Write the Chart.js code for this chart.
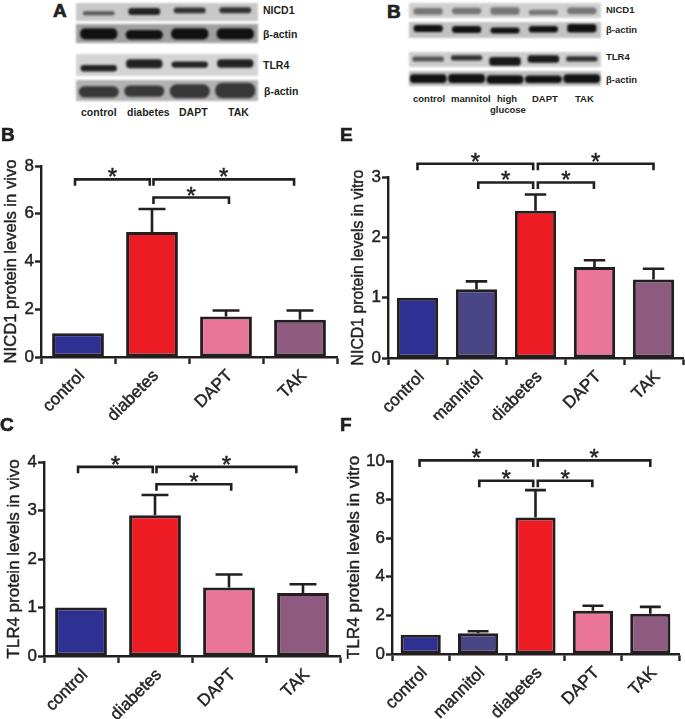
<!DOCTYPE html>
<html>
<head>
<meta charset="utf-8">
<title>NICD1 and TLR4 protein levels</title>
<script src="https://cdn.jsdelivr.net/npm/chart.js@4"></script>
<style>
    body { margin: 0; background: #fff; width: 685px; height: 719px; position: relative; overflow: hidden; font-family: "Liberation Sans", Arial, sans-serif; color: #231f20; }
    canvas { position: absolute; }
    .blot { filter: blur(1.1px); }
    .lab { position: absolute; font-weight: bold; white-space: nowrap; line-height: 1; }
    .letter { position: absolute; font-weight: bold; font-size: 19px; line-height: 1; -webkit-text-stroke: 0.7px #231f20; }
</style>
</head>
<body>
<canvas id="blotA1" class="blot" width="182" height="18" style="left:76px;top:3px;background:#c8c8c8"></canvas>
<canvas id="blotA2" class="blot" width="182" height="19" style="left:76px;top:24px;background:#a0a0a0"></canvas>
<canvas id="blotA3" class="blot" width="182" height="22" style="left:76px;top:54px;background:#d4d4d4"></canvas>
<canvas id="blotA4" class="blot" width="182" height="21" style="left:76px;top:80px;background:#b2b2b2"></canvas>
<canvas id="blotB1" class="blot" width="192" height="15" style="left:409px;top:3px;background:#cfcfcf"></canvas>
<canvas id="blotB2" class="blot" width="192" height="16" style="left:409px;top:22px;background:#c2c2c2"></canvas>
<canvas id="blotB3" class="blot" width="192" height="15" style="left:409px;top:52px;background:#cdcdcd"></canvas>
<canvas id="blotB4" class="blot" width="192" height="15" style="left:409px;top:71px;background:#bdbdbd"></canvas>

<canvas id="chartB" width="345" height="295" style="left:0;top:125px"></canvas>
<canvas id="chartC" width="345" height="299" style="left:0;top:420px"></canvas>
<canvas id="chartE" width="340" height="295" style="left:345px;top:125px"></canvas>
<canvas id="chartF" width="340" height="299" style="left:345px;top:420px"></canvas>

<div class="letter" style="left:53px;top:1px">A</div>
<div class="letter" style="left:387px;top:2px">B</div>
<div class="letter" style="left:1px;top:125px">B</div>
<div class="letter" style="left:0;top:415px">C</div>
<div class="letter" style="left:340px;top:125px">E</div>
<div class="letter" style="left:340px;top:415px">F</div>

<div class="lab" style="left:263px;top:5px;font-size:10.5px">NICD1</div>
<div class="lab" style="left:263px;top:29px;font-size:10.5px">β-actin</div>
<div class="lab" style="left:263px;top:60px;font-size:10.5px">TLR4</div>
<div class="lab" style="left:264px;top:86px;font-size:10.5px">β-actin</div>
<div class="lab" style="left:81px;top:107px;font-size:10.5px">control</div>
<div class="lab" style="left:127px;top:107px;font-size:10.5px">diabetes</div>
<div class="lab" style="left:179px;top:107px;font-size:10.5px">DAPT</div>
<div class="lab" style="left:228px;top:107px;font-size:10.5px">TAK</div>

<div class="lab" style="left:606px;top:5px;font-size:9.5px">NICD1</div>
<div class="lab" style="left:606px;top:25px;font-size:9.5px">β-actin</div>
<div class="lab" style="left:606px;top:52px;font-size:9.5px">TLR4</div>
<div class="lab" style="left:606px;top:75px;font-size:9.5px">β-actin</div>
<div class="lab" style="left:413px;top:94px;font-size:9.5px">control</div>
<div class="lab" style="left:451px;top:94px;font-size:9.5px">mannitol</div>
<div class="lab" style="left:497px;top:94px;font-size:9.5px">high</div>
<div class="lab" style="left:490px;top:105px;font-size:9.5px">glucose</div>
<div class="lab" style="left:532px;top:94px;font-size:9.5px">DAPT</div>
<div class="lab" style="left:575px;top:94px;font-size:9.5px">TAK</div>

<script>
// Categories
const vivoCategories = ['control', 'diabetes', 'DAPT', 'TAK'];
const vitroCategories = ['control', 'mannitol', 'diabetes', 'DAPT', 'TAK'];

// Bar heights and error bar tops
const nicd1VivoValues = [1.0, 5.24, 1.7, 1.56];
const nicd1VivoErrors = [null, 6.2, 1.95, 1.95];
const tlr4VivoValues = [1.0, 2.9, 1.41, 1.3];
const tlr4VivoErrors = [null, 3.32, 1.68, 1.48];
const nicd1VitroValues = [1.0, 1.14, 2.44, 1.51, 1.3];
const nicd1VitroErrors = [null, 1.27, 2.71, 1.62, 1.48];
const tlr4VitroValues = [1.0, 1.08, 7.07, 2.24, 2.08];
const tlr4VitroErrors = [null, 1.18, 8.49, 2.5, 2.44];

// Significance brackets: [from category, to category, value]
const nicd1VivoBrackets = [[-0.04, 0.97, 7.44], [1.02, 2.92, 7.44], [1.02, 2.04, 6.68]];
const tlr4VivoBrackets = [[-0.04, 0.97, 3.9], [1.02, 2.91, 3.9], [1.02, 2.03, 3.54]];
const nicd1VitroBrackets = [[0, 1.96, 3.22], [2.04, 4, 3.22], [1.03, 1.96, 2.91], [2.04, 2.99, 2.91]];
const tlr4VitroBrackets = [[-0.02, 1.96, 10.03], [2.04, 4, 10.03], [1.02, 1.96, 8.98], [2.04, 2.99, 8.98]];

// Blot bands: [low, high] inside each strip, one per lane
const blotA1Bands = [[0.32, 0.54], [0.34, 0.72], [0.43, 0.75], [0.43, 0.76]];
const blotA2Bands = [[0.18, 0.78], [0.18, 0.68], [0.18, 0.78], [0.18, 0.78]];
const blotA3Bands = [[0.2, 0.5], [0.35, 0.76], [0.38, 0.66], [0.38, 0.76]];
const blotA4Bands = [[0.17, 0.7], [0.2, 0.74], [0.13, 0.8], [0.13, 0.87]];
const blotB1Bands = [[0.22, 0.67], [0.25, 0.68], [0.22, 0.72], [0.2, 0.55], [0.25, 0.7]];
const blotB2Bands = [[0.38, 0.82], [0.32, 0.75], [0.28, 0.66], [0.35, 0.75], [0.34, 0.88]];
const blotB3Bands = [[0.36, 0.7], [0.43, 0.79], [0.09, 0.66], [0.28, 0.79], [0.36, 0.72]];
const blotB4Bands = [[0.2, 0.78], [0.2, 0.8], [0.15, 0.72], [0.2, 0.7], [0.2, 0.78]];

const ink = '#231f20';
const fontFamily = '"Liberation Sans", Arial, sans-serif';
const barColors = {
    control: '#2e3192',
    mannitol: '#4a4585',
    diabetes: '#ed1c24',
    DAPT: '#e9769a',
    TAK: '#8e5a80'
};

// Error bars, brackets and the y title are drawn on top of the bars
function marksPlugin(cfg) {
    return {
        id: 'marks',
        afterDatasetsDraw(chart) {
            const ctx = chart.ctx;
            const x = chart.scales.x;
            const y = chart.scales.y;
            const bars = chart.getDatasetMeta(0).data;

            ctx.save();
            ctx.strokeStyle = ink;
            ctx.fillStyle = ink;
            ctx.lineWidth = 2.6;

            cfg.errors.forEach((top, i) => {
                if (top === null) return;
                const cap = bars[i].width * 0.26;
                ctx.beginPath();
                ctx.moveTo(bars[i].x, y.getPixelForValue(cfg.values[i]));
                ctx.lineTo(bars[i].x, y.getPixelForValue(top));
                ctx.moveTo(bars[i].x - cap, y.getPixelForValue(top));
                ctx.lineTo(bars[i].x + cap, y.getPixelForValue(top));
                ctx.stroke();
            });

            ctx.textAlign = 'center';
            ctx.textBaseline = 'alphabetic';
            cfg.brackets.forEach(b => {
                const x0 = x.getPixelForValue(b[0]);
                const x1 = x.getPixelForValue(b[1]);
                const py = y.getPixelForValue(b[2]);
                ctx.lineWidth = 2.6;
                ctx.beginPath();
                ctx.moveTo(x0, py + 6.5);
                ctx.lineTo(x0, py);
                ctx.lineTo(x1, py);
                ctx.lineTo(x1, py + 6.5);
                ctx.stroke();
                ctx.font = '24px ' + fontFamily;
                ctx.lineWidth = 0.5;
                ctx.fillText('*', (x0 + x1) / 2, py + 6);
                ctx.strokeText('*', (x0 + x1) / 2, py + 6);
            });

            // y axis title, with a thin stroke to get the weight of the original
            ctx.translate(cfg.titleX, (chart.chartArea.top + chart.chartArea.bottom) / 2);
            ctx.rotate(-Math.PI / 2);
            ctx.textBaseline = 'middle';
            ctx.font = cfg.titleSize + 'px ' + fontFamily;
            ctx.lineWidth = 0.45;
            ctx.fillText(cfg.title, 0, 0);
            ctx.strokeText(cfg.title, 0, 0);
            ctx.restore();
        }
    };
}

function makeBarChart(id, cfg) {
    new Chart(document.getElementById(id), {
        type: 'bar',
        data: {
            labels: cfg.categories,
            datasets: [{
                data: cfg.values,
                backgroundColor: cfg.categories.map(c => barColors[c]),
                borderColor: ink,
                borderWidth: 3,
                borderSkipped: false,
                barPercentage: 0.7,
                categoryPercentage: 1
            }]
        },
        options: {
            responsive: false,
            animation: false,
            layout: { padding: cfg.padding },
            plugins: { legend: { display: false }, tooltip: { enabled: false } },
            scales: {
                x: {
                    afterFit: s => { s.height = cfg.xHeight; },
                    grid: { display: true, drawOnChartArea: false, tickLength: 7, tickWidth: 2.4, tickColor: ink },
                    border: { color: ink, width: 2.4 },
                    ticks: {
                        color: ink,
                        font: { size: 17, family: fontFamily },
                        textStrokeColor: ink,
                        textStrokeWidth: 0.45,
                        minRotation: 45,
                        maxRotation: 45,
                        autoSkip: false,
                        labelOffset: 4,
                        padding: 2
                    }
                },
                y: {
                    min: 0,
                    max: cfg.max,
                    afterFit: s => { s.width = cfg.yWidth; },
                    grid: { display: true, drawOnChartArea: false, tickLength: 6, tickWidth: 2.4, tickColor: ink },
                    border: { color: ink, width: 2.4 },
                    ticks: {
                        color: ink,
                        stepSize: cfg.step,
                        font: { size: 17, family: fontFamily },
                        textStrokeColor: ink,
                        textStrokeWidth: 0.45,
                        padding: 1
                    }
                }
            }
        },
        plugins: [marksPlugin(cfg)]
    });
}

function makeBlot(id, bands, color, width, radius) {
    new Chart(document.getElementById(id), {
        type: 'bar',
        data: {
            labels: bands.map((b, i) => i),
            datasets: [{
                data: bands,
                backgroundColor: color,
                borderWidth: 0,
                borderSkipped: false,
                borderRadius: radius,
                barPercentage: width,
                categoryPercentage: 1
            }]
        },
        options: {
            responsive: false,
            animation: false,
            plugins: { legend: { display: false }, tooltip: { enabled: false } },
            scales: {
                x: { display: false },
                y: { display: false, min: 0, max: 1 }
            }
        }
    });
}

makeBlot('blotA1', blotA1Bands, ['#555', '#222', '#333', '#333'], 0.7, 3);
makeBlot('blotA2', blotA2Bands, '#111', 0.82, 5);
makeBlot('blotA3', blotA3Bands, '#222', 0.8, 4);
makeBlot('blotA4', blotA4Bands, '#383838', 0.88, 7);
makeBlot('blotB1', blotB1Bands, '#777', 0.76, 3);
makeBlot('blotB2', blotB2Bands, '#111', 0.76, 3);
makeBlot('blotB3', blotB3Bands, ['#555', '#333', '#1a1a1a', '#1a1a1a', '#333'], 0.82, 3);
makeBlot('blotB4', blotB4Bands, '#111', 0.96, 4);

makeBarChart('chartB', {
    categories: vivoCategories, values: nicd1VivoValues, errors: nicd1VivoErrors, brackets: nicd1VivoBrackets,
    max: 8, step: 2, title: 'NICD1 protein levels in vivo', titleSize: 16.6, titleX: 11,
    yWidth: 41, xHeight: 63, padding: { top: 41, right: 8, left: 0, bottom: 0 }
});
makeBarChart('chartC', {
    categories: vivoCategories, values: tlr4VivoValues, errors: tlr4VivoErrors, brackets: tlr4VivoBrackets,
    max: 4, step: 1, title: 'TLR4 protein levels in vivo', titleSize: 17, titleX: 14,
    yWidth: 44, xHeight: 63, padding: { top: 42, right: 5, left: 0, bottom: 0 }
});
makeBarChart('chartE', {
    categories: vitroCategories, values: nicd1VitroValues, errors: nicd1VitroErrors, brackets: nicd1VitroBrackets,
    max: 3, step: 1, title: 'NICD1 protein levels in vitro', titleSize: 15.8, titleX: 14,
    yWidth: 43, xHeight: 62, padding: { top: 52, right: 2, left: 0, bottom: 0 }
});
makeBarChart('chartF', {
    categories: vitroCategories, values: tlr4VitroValues, errors: tlr4VitroErrors, brackets: tlr4VitroBrackets,
    max: 10, step: 2, title: 'TLR4 protein levels in vitro', titleSize: 17.2, titleX: 9,
    yWidth: 47, xHeight: 65, padding: { top: 41, right: 6, left: 0, bottom: 0 }
});
</script>
</body>
</html>
